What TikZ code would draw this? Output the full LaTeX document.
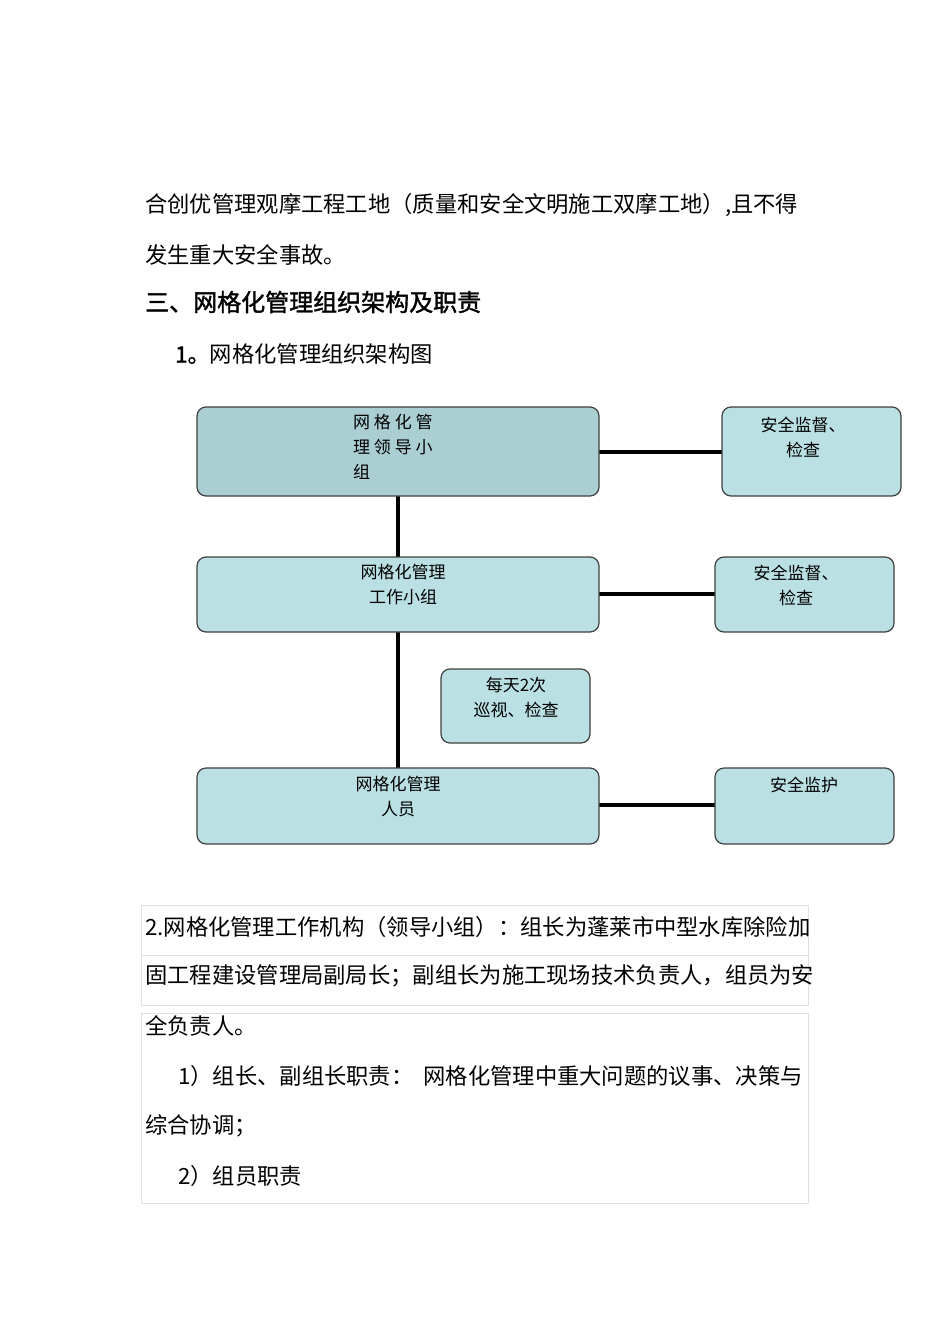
\documentclass[tikz,border=0pt]{standalone}
\usepackage{fontspec}
\setmainfont{Noto Sans CJK SC}
\newfontfamily\cjkb[FakeBold=1.5]{Noto Sans CJK SC}
\begin{document}
\begin{tikzpicture}[x=1pt,y=-1pt,
 body/.style={anchor=west,inner sep=0,font=\fontsize{22.3}{22}\selectfont},
 bx/.style={draw=black!75,line width=1.2pt,rounded corners=9pt},
 lab/.style={align=center,font=\fontsize{17}{25}\selectfont,inner sep=0},
 link/.style={line width=3.2pt},
 faint/.style={draw=black!12,line width=0.6pt}]
\useasboundingbox[fill=white] (0,0) rectangle (950,1344);
\node[body] (t1) at (145,205) {合创优管理观摩工程工地（质量和安全文明施工双摩工地）,且不得};
\node[body] (t2) at (145,255) {发生重大安全事故。};
\node[body,font=\fontsize{24}{24}\selectfont\cjkb] (h) at (145,302) {三、网格化管理组织架构及职责};
\node[body] (h1) at (175,354) {{\cjkb 1。}网格化管理组织架构图};
% links (behind boxes)
\coordinate (vTop) at (398,496); \coordinate (vBot) at (398,768);
\draw[link] (vTop) -- (vBot);
\coordinate (a1) at (599,452); \coordinate (a2) at (722,452);
\draw[link] (a1) -- (a2);
\coordinate (c1) at (599,594); \coordinate (c2) at (715,594);
\draw[link] (c1) -- (c2);
\coordinate (f1) at (599,805); \coordinate (f2) at (715,805);
\draw[link] (f1) -- (f2);
% boxes
\draw[bx,fill={rgb,255:red,170;green,206;blue,210}] (197,407) rectangle (599,496);
\node[lab,anchor=north west,align=left] (Atext) at (353,414) {网 格 化 管\\ 理 领 导 小\\ 组};
\draw[bx,fill={rgb,255:red,186;green,224;blue,227}] (722,407) rectangle (901,496);
\node[lab] (Btext) at (803,437) {安全监督、\\检查};
\draw[bx,fill={rgb,255:red,186;green,224;blue,227}] (197,557) rectangle (599,632);
\node[lab] (Ctext) at (403,585) {网格化管理\\工作小组};
\draw[bx,fill={rgb,255:red,186;green,224;blue,227}] (715,557) rectangle (894,632);
\node[lab] (Dtext) at (796,585) {安全监督、\\检查};
\draw[bx,fill={rgb,255:red,186;green,224;blue,227}] (441,669) rectangle (590,743);
\node[lab] (Etext) at (516,697) {每天2次\\巡视、检查};
\draw[bx,fill={rgb,255:red,186;green,224;blue,227}] (197,768) rectangle (599,844);
\node[lab] (Ftext) at (398,797) {网格化管理\\人员};
\draw[bx,fill={rgb,255:red,186;green,224;blue,227}] (715,768) rectangle (894,844);
\node[lab] (Gtext) at (804,785) {安全监护};
% faint outlines
\draw[faint] (141,905) rectangle (808,955);
\draw[faint] (141,955) rectangle (808,1005);
\draw[faint] (141,1013) rectangle (808,1203);
\node[body] (p1) at (145,927) {2.网格化管理工作机构（领导小组）：组长为蓬莱市中型水库除险加};
\node[body] (p2) at (145,976) {固工程建设管理局副局长；副组长为施工现场技术负责人，组员为安};
\node[body] (p3) at (145,1026) {全负责人。};
\node[body] (p4) at (178,1076) {1）组长、副组长职责：\ \ 网格化管理中重大问题的议事、决策与};
\node[body] (p5) at (145,1126) {综合协调；};
\node[body] (p6) at (178,1176) {2）组员职责};
\end{tikzpicture}
\end{document}
